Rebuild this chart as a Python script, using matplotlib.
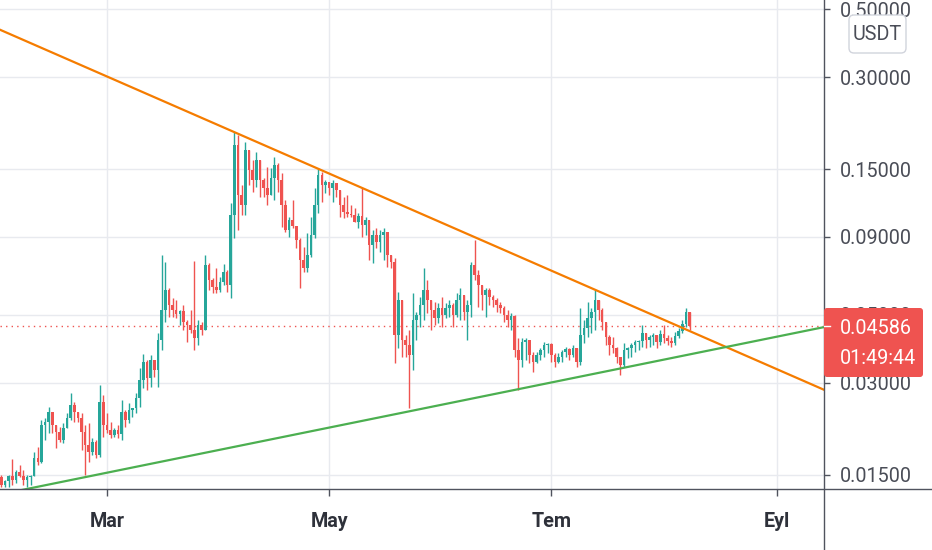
import matplotlib
matplotlib.use("Agg")
import matplotlib.pyplot as plt
import matplotlib.dates as mdates
import numpy as np
from matplotlib.patches import FancyBboxPatch
from matplotlib.lines import Line2D
from matplotlib.transforms import IdentityTransform
from matplotlib.ticker import NullLocator

plt.rcParams['font.family'] = ['Roboto', 'DejaVu Sans']

# ---------------- data (daily candles, USDT) ----------------
start_date = '2021-01-31'
first_open = 0.0147
closes = [0.0139, 0.0143, 0.0148, 0.0144, 0.0153, 0.0149, 0.0144, 0.0147, 0.0149, 0.0170,
          0.0165, 0.0218, 0.0223, 0.0241, 0.0218, 0.0207, 0.0195, 0.0213, 0.0230, 0.0253,
          0.0241, 0.0230, 0.0207, 0.0188, 0.0178, 0.0192, 0.0174, 0.0259, 0.0218, 0.0210,
          0.0202, 0.0210, 0.0204, 0.0241, 0.0227, 0.0244, 0.0248, 0.0267, 0.0306, 0.0350,
          0.0311, 0.0356, 0.0330, 0.0414, 0.0518, 0.0603, 0.0538, 0.0518, 0.0503, 0.0515,
          0.0474, 0.0463, 0.0446, 0.0420, 0.0463, 0.0446, 0.0727, 0.0650, 0.0617, 0.0603,
          0.0641, 0.0690, 0.0626, 0.1061, 0.1798, 0.1235, 0.1145, 0.1731, 0.1489, 0.1382,
          0.1605, 0.1382, 0.1301, 0.1235, 0.1403, 0.1546, 0.1382, 0.1145, 0.0948, 0.1021,
          0.0977, 0.0879, 0.0755, 0.0711, 0.0785, 0.0913, 0.1145, 0.1435, 0.1331, 0.1361,
          0.1301, 0.1351, 0.1282, 0.1145, 0.1087, 0.1069, 0.1061, 0.1006, 0.1053, 0.0984,
          0.1021, 0.0847, 0.0913, 0.0866, 0.0913, 0.0934, 0.0785, 0.0744, 0.0430, 0.0559,
          0.0414, 0.0398, 0.0369, 0.0481, 0.0499, 0.0538, 0.0603, 0.0559, 0.0518, 0.0488,
          0.0526, 0.0499, 0.0526, 0.0538, 0.0499, 0.0559, 0.0581, 0.0511, 0.0538, 0.0727,
          0.0675, 0.0626, 0.0581, 0.0603, 0.0572, 0.0559, 0.0538, 0.0526, 0.0499, 0.0481,
          0.0496, 0.0384, 0.0356, 0.0408, 0.0414, 0.0369, 0.0350, 0.0369, 0.0384, 0.0398,
          0.0401, 0.0369, 0.0350, 0.0364, 0.0378, 0.0386, 0.0369, 0.0389, 0.0350, 0.0430,
          0.0452, 0.0488, 0.0511, 0.0559, 0.0518, 0.0474, 0.0423, 0.0398, 0.0389, 0.0364,
          0.0342, 0.0384, 0.0389, 0.0398, 0.0408, 0.0411, 0.0436, 0.0414, 0.0423, 0.0430,
          0.0408, 0.0433, 0.0420, 0.0411, 0.0405, 0.0426, 0.0442, 0.0466, 0.0511, 0.04586]
highs = [0.0150, 0.0144, 0.0150, 0.0169, 0.0155, 0.0161, 0.0155, 0.0150, 0.0150, 0.0178,
         0.0185, 0.0227, 0.0230, 0.0250, 0.0239, 0.0218, 0.0215, 0.0222, 0.0239, 0.0277,
         0.0259, 0.0241, 0.0239, 0.0218, 0.0222, 0.0198, 0.0195, 0.0295, 0.0273, 0.0239,
         0.0223, 0.0213, 0.0218, 0.0263, 0.0244, 0.0257, 0.0248, 0.0277, 0.0335, 0.0372,
         0.0356, 0.0369, 0.0356, 0.0436, 0.0785, 0.0744, 0.0612, 0.0568, 0.0559, 0.0518,
         0.0538, 0.0481, 0.0518, 0.0749, 0.0481, 0.0474, 0.0785, 0.0738, 0.0660, 0.0711,
         0.0665, 0.0733, 0.0701, 0.1162, 0.1982, 0.1939, 0.1331, 0.1841, 0.1731, 0.1605,
         0.1705, 0.1605, 0.1403, 0.1523, 0.1511, 0.1642, 0.1569, 0.1456, 0.1189, 0.1045,
         0.1189, 0.0977, 0.0892, 0.0834, 0.0927, 0.1045, 0.1301, 0.1511, 0.1467, 0.1382,
         0.1361, 0.1382, 0.1351, 0.1282, 0.1216, 0.1235, 0.1145, 0.1120, 0.1078, 0.1301,
         0.1045, 0.1021, 0.0948, 0.0962, 0.0948, 0.0962, 0.0934, 0.0785, 0.0767, 0.0594,
         0.0559, 0.0430, 0.0446, 0.0589, 0.0511, 0.0572, 0.0711, 0.0650, 0.0559, 0.0551,
         0.0547, 0.0572, 0.0547, 0.0559, 0.0547, 0.0589, 0.0612, 0.0581, 0.0559, 0.0744,
         0.0879, 0.0701, 0.0626, 0.0612, 0.0612, 0.0581, 0.0568, 0.0551, 0.0534, 0.0518,
         0.0507, 0.0499, 0.0420, 0.0420, 0.0420, 0.0408, 0.0378, 0.0378, 0.0389, 0.0408,
         0.0405, 0.0405, 0.0375, 0.0375, 0.0384, 0.0392, 0.0389, 0.0398, 0.0389, 0.0526,
         0.0481, 0.0551, 0.0526, 0.0603, 0.0559, 0.0526, 0.0474, 0.0430, 0.0423, 0.0392,
         0.0364, 0.0405, 0.0392, 0.0405, 0.0414, 0.0414, 0.0463, 0.0436, 0.0430, 0.0436,
         0.0430, 0.0446, 0.0463, 0.0430, 0.0423, 0.0439, 0.0452, 0.0481, 0.0526, 0.0499]
lows = [0.0137, 0.0137, 0.0137, 0.0139, 0.0141, 0.0147, 0.0139, 0.0137, 0.0139, 0.0149,
        0.0161, 0.0164, 0.0195, 0.0205, 0.0205, 0.0183, 0.0192, 0.0190, 0.0215, 0.0227,
        0.0223, 0.0223, 0.0181, 0.0150, 0.0165, 0.0174, 0.0170, 0.0171, 0.0199, 0.0205,
        0.0198, 0.0199, 0.0198, 0.0195, 0.0215, 0.0222, 0.0232, 0.0239, 0.0250, 0.0288,
        0.0284, 0.0291, 0.0313, 0.0291, 0.0384, 0.0474, 0.0492, 0.0492, 0.0488, 0.0463,
        0.0446, 0.0408, 0.0436, 0.0384, 0.0398, 0.0430, 0.0446, 0.0603, 0.0589, 0.0589,
        0.0594, 0.0626, 0.0594, 0.0568, 0.0892, 0.0948, 0.1061, 0.1061, 0.1331, 0.1263,
        0.1311, 0.1216, 0.1216, 0.1145, 0.1235, 0.1189, 0.1263, 0.0969, 0.0934, 0.0899,
        0.0962, 0.0828, 0.0612, 0.0690, 0.0690, 0.0773, 0.0892, 0.1078, 0.1171, 0.1253,
        0.1235, 0.1171, 0.1216, 0.1045, 0.1037, 0.1045, 0.1045, 0.1006, 0.0962, 0.0899,
        0.0913, 0.0755, 0.0738, 0.0828, 0.0803, 0.0755, 0.0716, 0.0711, 0.0348, 0.0389,
        0.0364, 0.0364, 0.0248, 0.0330, 0.0414, 0.0456, 0.0481, 0.0507, 0.0446, 0.0463,
        0.0470, 0.0456, 0.0488, 0.0492, 0.0456, 0.0492, 0.0481, 0.0481, 0.0414, 0.0492,
        0.0650, 0.0530, 0.0518, 0.0492, 0.0538, 0.0530, 0.0511, 0.0507, 0.0474, 0.0456,
        0.0446, 0.0364, 0.0284, 0.0337, 0.0356, 0.0348, 0.0325, 0.0348, 0.0356, 0.0364,
        0.0375, 0.0350, 0.0337, 0.0348, 0.0350, 0.0364, 0.0356, 0.0364, 0.0337, 0.0342,
        0.0405, 0.0423, 0.0436, 0.0446, 0.0481, 0.0446, 0.0398, 0.0369, 0.0375, 0.0348,
        0.0318, 0.0337, 0.0361, 0.0364, 0.0378, 0.0384, 0.0392, 0.0389, 0.0392, 0.0398,
        0.0389, 0.0398, 0.0405, 0.0398, 0.0392, 0.0398, 0.0420, 0.0436, 0.0456, 0.0446]

y_ticks = [0.015, 0.03, 0.05, 0.09, 0.15, 0.3, 0.5]
y_ticklabels = ['0.01500', '0.03000', '0.05000', '0.09000', '0.15000', '0.30000', '0.50000']
x_tick_dates = ['2021-03-01', '2021-05-01', '2021-07-01', '2021-09-01']
x_ticklabels = ['Mar', 'May', 'Tem', 'Eyl']

# trend lines: two anchor points each (date, price)
resistance_dates = ['2021-04-05', '2021-09-14']
resistance_prices = [0.198, 0.0284]
support_dates = ['2021-05-24', '2021-09-14']
support_prices = [0.0243, 0.0456]

last_price_text = '0.04586'
countdown_text = '01:49:44'
currency = 'USDT'

# ---------------- figure ----------------
W, H = 932, 550
FS = 14.2
fig = plt.figure(figsize=(W / 100, H / 100), dpi=100)
fig.patch.set_facecolor('white')
ax = fig.add_axes([0, (H - 489) / H, 824 / W, 489 / H])
ax.set_facecolor('white')

UP = '#26a69a'
DN = '#ef5350'

closes_a = np.array(closes)
highs_a = np.array(highs)
lows_a = np.array(lows)
opens_a = np.concatenate([[first_open], closes_a[:-1]])
n = len(closes_a)
dates = np.arange(np.datetime64(start_date), np.datetime64(start_date) + n)
xd = mdates.date2num(dates)
up = closes_a >= opens_a
cols = np.where(up, UP, DN)

body_lo = np.minimum(opens_a, closes_a)
body_hi = np.maximum(opens_a, closes_a)
body_hi = np.maximum(body_hi, body_lo * 1.008)
wick_lo = np.minimum(lows_a, body_lo)
wick_hi = np.maximum(highs_a, body_hi)

ax.set_yscale('log')
ax.vlines(xd, wick_lo, wick_hi, colors=cols, linewidth=1.0, zorder=3)
ax.bar(xd, body_hi - body_lo, bottom=body_lo, width=0.72, color=cols,
       linewidth=0, zorder=4)

mar1 = mdates.date2num(np.datetime64('2021-03-01'))
px_per_day = 3.641
x0 = mar1 - 107 / px_per_day
x1 = mar1 + 717 / px_per_day
ax.set_xlim(x0, x1)
ax.set_ylim(0.01346, 0.536)


def extend(dts, prs):
    a = mdates.date2num(np.array(dts, dtype='datetime64[D]'))
    lp = np.log(np.array(prs))
    slope = (lp[1] - lp[0]) / (a[1] - a[0])
    xs = np.array([x0 - 5, x1 + 5])
    return xs, np.exp(lp[0] + slope * (xs - a[0]))


xs, ys = extend(resistance_dates, resistance_prices)
ax.plot(xs, ys, color='#f57c00', linewidth=1.6, zorder=5, solid_capstyle='butt')
xs, ys = extend(support_dates, support_prices)
ax.plot(xs, ys, color='#4caf50', linewidth=1.6, zorder=5, solid_capstyle='butt')

# last price dotted line
ax.axhline(closes_a[-1], color=DN, linewidth=1.0, linestyle=(0, (1, 3)), zorder=2)

# ticks
ax.yaxis.tick_right()
ax.set_yticks(y_ticks)
ax.set_yticklabels(y_ticklabels)
ax.yaxis.set_minor_locator(NullLocator())
ax.set_xticks(mdates.date2num(np.array(x_tick_dates, dtype='datetime64[D]')))
ax.set_xticklabels(x_ticklabels)
ax.xaxis.set_minor_locator(NullLocator())
ax.tick_params(axis='y', which='major', length=4.5, width=1, color='#50535e',
               pad=7, labelsize=FS, labelcolor='#4a4d57')
ax.tick_params(axis='x', which='major', length=5, width=1, color='#50535e',
               pad=11.5, labelsize=FS, labelcolor='#2e313a')
for t in ax.get_xticklabels():
    t.set_fontweight('bold')
ax.grid(True, color='#e8eaef', linewidth=1.0, zorder=0)
ax.set_axisbelow(True)
for s in ax.spines.values():
    s.set_visible(False)

# frame lines spanning the whole figure
fig.add_artist(Line2D([824 / W, 824 / W], [0, 1], transform=fig.transFigure,
                      color='#50535e', linewidth=1.0))
fig.add_artist(Line2D([0, 1], [(H - 489) / H, (H - 489) / H], transform=fig.transFigure,
                      color='#50535e', linewidth=1.0))

# last price label box
box = FancyBboxPatch((824, H - 377), 99, 69, boxstyle='round,pad=0,rounding_size=3',
                     transform=IdentityTransform(), facecolor='#ef5350',
                     edgecolor='none', zorder=10)
fig.add_artist(box)
fig.add_artist(Line2D([824 / W, 830 / W], [(H - 326) / H] * 2, transform=fig.transFigure,
                      color='white', linewidth=1.0, zorder=11))
fig.text(840 / W, (H - 328) / H, last_price_text, color='white', fontsize=FS,
         ha='left', va='center', zorder=12)
fig.text(840 / W, (H - 359) / H, countdown_text, color='white', fontsize=FS,
         ha='left', va='center', zorder=12)

# currency box
cbox = FancyBboxPatch((849, H - 53), 57, 38, boxstyle='round,pad=0,rounding_size=5',
                      transform=IdentityTransform(), facecolor='white',
                      edgecolor='#d1d4dc', linewidth=1.0, zorder=10)
fig.add_artist(cbox)
fig.text(877.5 / W, (H - 34) / H, currency, color='#4a4d57', fontsize=FS,
         ha='center', va='center', zorder=12)

fig.savefig('out.png', dpi=100)
